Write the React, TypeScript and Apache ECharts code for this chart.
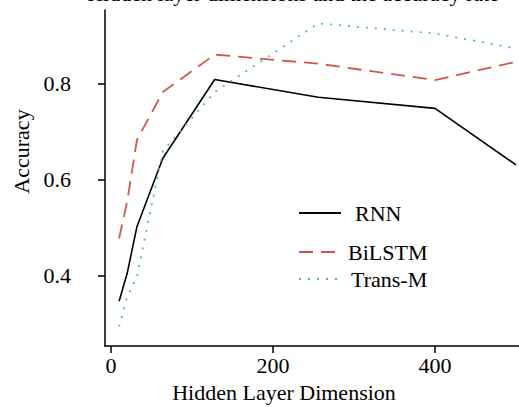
import React, { useEffect, useRef } from "react";
import * as echarts from "echarts";

const xValues = [10, 20, 32, 64, 128, 256, 400, 500];
const rnn = [0.347, 0.405, 0.502, 0.645, 0.809, 0.772, 0.749, 0.631];
const bilstm = [0.478, 0.555, 0.683, 0.783, 0.861, 0.842, 0.808, 0.846];
const transM = [0.294, 0.356, 0.398, 0.66, 0.783, 0.926, 0.905, 0.874];
const xTicks = [0, 200, 400];
const yTicks = [0.4, 0.6, 0.8];
const seriesNames = ["RNN", "BiLSTM", "Trans-M"];

const FONT = "Liberation Serif";

export default function App() {
  const ref = useRef<HTMLDivElement>(null);
  useEffect(() => {
    if (!ref.current) return;
    const chart = echarts.init(ref.current, undefined, { renderer: "svg" });
    const pair = (ys: number[]) => xValues.map((x, i) => [x, ys[i]]);
    const legendBase = (name: string, top: number, padLeft: number) => ({
      data: [name],
      left: 298,
      top,
      padding: 0,
      itemWidth: 42,
      itemHeight: 14,
      selectedMode: false,
      itemStyle: { color: "transparent", borderWidth: 0, opacity: 0 },
      textStyle: {
        fontFamily: FONT,
        fontSize: 22,
        color: "#000",
        padding: [0, 0, 0, padLeft],
      },
    });
    chart.setOption({
      animation: false,
      backgroundColor: "#fff",
      title: {
        text: "Hidden layer dimensions and the accuracy rate",
        left: 288,
        textAlign: "center",
        top: -23,
        textStyle: { fontFamily: FONT, fontSize: 22, fontWeight: "normal", color: "#000" },
      },
      grid: {
        left: 105,
        top: 10,
        right: 0,
        bottom: 61,
        containLabel: false,
        outerBoundsMode: "none",
      },
      legend: [
        legendBase(seriesNames[0], 202, 9),
        legendBase(seriesNames[1], 241, 2),
        legendBase(seriesNames[2], 268, 5),
      ],
      xAxis: {
        type: "value",
        min: -7.4,
        max: 503.7,
        name: "Hidden Layer Dimension",
        nameLocation: "middle",
        nameGap: 35,
        nameTextStyle: { fontFamily: FONT, fontSize: 22, color: "#000", padding: [0, 56, 0, 0] },
        axisLine: { show: true, onZero: false, lineStyle: { color: "#000", width: 1.5 } },
        axisTick: { show: true, length: 7, customValues: xTicks, lineStyle: { color: "#000", width: 1.5 } },
        axisLabel: { customValues: xTicks, margin: 8, fontFamily: FONT, fontSize: 22, color: "#000" },
        splitLine: { show: false },
      },
      yAxis: {
        type: "value",
        min: 0.2535,
        max: 0.954,
        name: "Accuracy",
        nameLocation: "middle",
        nameGap: 72,
        nameRotate: 90,
        nameTextStyle: { fontFamily: FONT, fontSize: 22, color: "#000", padding: [0, 0, 0, 53] },
        axisLine: { show: true, onZero: false, lineStyle: { color: "#000", width: 1.5 } },
        axisTick: { show: true, length: 7, customValues: yTicks, lineStyle: { color: "#000", width: 1.5 } },
        axisLabel: {
          customValues: yTicks,
          margin: 34,
          fontFamily: FONT,
          fontSize: 22,
          color: "#000",
          formatter: (v: number) => v.toFixed(1),
        },
        splitLine: { show: false },
      },
      series: [
        {
          name: seriesNames[0],
          type: "line",
          data: pair(rnn),
          symbol: "none",
          color: "#000",
          lineStyle: { color: "#000", width: 1.6, type: "solid" },
        },
        {
          name: seriesNames[1],
          type: "line",
          data: pair(bilstm),
          symbol: "none",
          color: "#d0564c",
          lineStyle: { color: "#d0564c", width: 1.8, type: [14, 8] },
        },
        {
          name: seriesNames[2],
          type: "line",
          data: pair(transM),
          symbol: "none",
          color: "#4fb4cf",
          lineStyle: { color: "#4fb4cf", width: 1.8, type: [2, 7] },
        },
      ],
    });
    return () => chart.dispose();
  }, []);
  return (
    <div
      ref={ref}
      style={{ position: "absolute", left: 0, top: 0, width: 519, height: 407 }}
    />
  );
}
